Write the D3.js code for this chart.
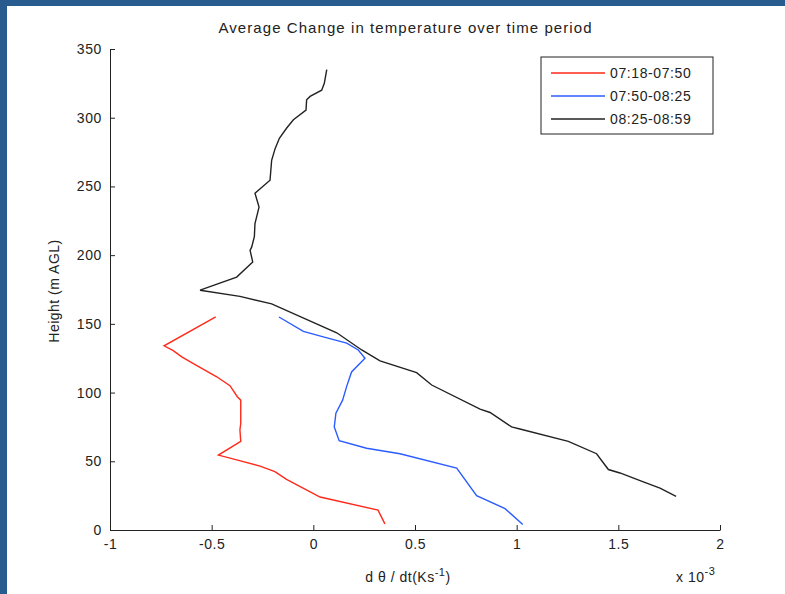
<!DOCTYPE html>
<html>
<head>
<meta charset="utf-8">
<script src="https://cdn.jsdelivr.net/npm/d3@7"></script>
<style>
  body { margin: 0; background: #fff; }
  svg { display: block; font-family: "Liberation Sans", Arial, sans-serif; }
</style>
</head>
<body>
<svg width="785" height="594"></svg>
<script>
// profiles of d(theta)/dt (x 10^-3 K/s) against height (m AGL)
const seriesNames = ["07:18-07:50", "07:50-08:25", "08:25-08:59"]
const seriesColors = ["#ff2a1a", "#2a5cff", "#222222"]

const redX = [-0.480, -0.734, -0.689, -0.647, -0.590, -0.475, -0.410, -0.374, -0.357, -0.357,
              -0.361, -0.357, -0.467, -0.377, -0.262, -0.189, -0.134, 0.033, 0.318, 0.352]
const redH = [155, 134, 130.5, 126, 121, 111.5, 105, 97, 94.5, 77.5,
              73, 64.5, 54.5, 51, 46.5, 42.5, 37, 24, 14.5, 4.5]

const blueX = [-0.169, -0.049, 0.049, 0.164, 0.221, 0.254, 0.188, 0.164, 0.144,
               0.111, 0.103, 0.127, 0.262, 0.426, 0.705, 0.803, 0.943, 1.030]
const blueH = [155, 144.5, 140.5, 136, 131, 125, 115, 104.5, 94.5,
               85, 75, 65, 59.5, 55.5, 45, 25, 15.5, 4]

const blackX = [0.066, 0.054, 0.041, -0.016, -0.033, -0.036, -0.098, -0.131, -0.167, -0.188,
                -0.205, -0.213, -0.287, -0.267, -0.287, -0.290, -0.303, -0.311, -0.298, -0.377,
                -0.557, -0.361, -0.205, 0.115, 0.238, 0.328, 0.508, 0.582, 0.820, 0.869,
                0.975, 1.016, 1.254, 1.393, 1.451, 1.508, 1.623, 1.705, 1.784]
const blackH = [335, 325, 320, 315.5, 313, 305.5, 298.5, 292.5, 285, 277.5,
                269, 254.5, 245, 235, 223, 213.5, 206, 203.5, 195, 184,
                174.5, 170, 164.5, 143.5, 131, 123, 114.5, 105.5, 88, 85.5,
                75, 73.5, 64.5, 55.5, 44, 41.5, 35, 30.5, 24.5]

const xTicks = [-1, -0.5, 0, 0.5, 1, 1.5, 2]
const yTicks = [0, 50, 100, 150, 200, 250, 300, 350]

const svg = d3.select("svg")
const ink = "#222"

// window frame: blue strip on left and top
svg.append("rect").attr("width", 785).attr("height", 594).attr("fill", "#285c8e")
svg.append("rect").attr("x", 7).attr("y", 6).attr("width", 778).attr("height", 588).attr("fill", "#fff")

const x = d3.scaleLinear().domain([-1, 2]).range([110, 720])
const y = d3.scaleLinear().domain([0, 350]).range([530, 49])

const series = [
  { name: seriesNames[0], color: seriesColors[0], pts: redX.map((v, i) => [v, redH[i]]) },
  { name: seriesNames[1], color: seriesColors[1], pts: blueX.map((v, i) => [v, blueH[i]]) },
  { name: seriesNames[2], color: seriesColors[2], pts: blackX.map((v, i) => [v, blackH[i]]) }
]

//axes, ticks pointing inward
svg.append("g")
  .attr("transform", `translate(0,${y(0)})`)
  .call(d3.axisBottom(x).tickValues(xTicks).tickFormat(d => String(d))
    .tickSizeInner(-5).tickSizeOuter(0).tickPadding(9))
svg.append("g")
  .attr("transform", `translate(${x(-1)},0)`)
  .call(d3.axisLeft(y).tickValues(yTicks).tickFormat(d => String(d))
    .tickSizeInner(-5).tickSizeOuter(0).tickPadding(8))

svg.selectAll(".domain, .tick line").attr("stroke", ink)
svg.selectAll(".tick text").attr("fill", ink).style("font-size", "14px").style("letter-spacing", "0.6px")

const line = d3.line().x(d => x(d[0])).y(d => y(d[1]))

svg.append("g").selectAll("path")
  .data(series)
  .join("path")
    .attr("d", d => line(d.pts))
    .attr("fill", "none")
    .attr("stroke", d => d.color)
    .attr("stroke-width", 1.4)

// title + labels
svg.append("text")
  .attr("x", 405).attr("y", 33)
  .attr("text-anchor", "middle").attr("fill", ink)
  .style("font-size", "15px")
  .attr("textLength", 373).attr("lengthAdjust", "spacing")
  .text("Average Change in temperature over time period")

svg.append("text")
  .attr("transform", "translate(59,291) rotate(-90)")
  .attr("text-anchor", "middle").attr("fill", ink)
  .style("font-size", "14px").style("letter-spacing", "0.5px")
  .text("Height (m AGL)")

const xl = svg.append("text")
  .attr("x", 408).attr("y", 582)
  .attr("text-anchor", "middle").attr("fill", ink)
  .style("font-size", "14px").style("letter-spacing", "0.5px")
xl.append("tspan").text("d \u03b8 / dt(Ks")
xl.append("tspan").attr("dy", -6).style("font-size", "11px").text("-1")
xl.append("tspan").attr("dy", 6).text(")")

const mult = svg.append("text")
  .attr("x", 676).attr("y", 582).attr("fill", ink)
  .style("font-size", "14px").style("letter-spacing", "0.5px")
mult.append("tspan").text("x 10")
mult.append("tspan").attr("dy", -7).style("font-size", "11px").text("-3")

// legend
const legend = svg.append("g").attr("transform", "translate(541,57)")
legend.append("rect")
  .attr("width", 172).attr("height", 77)
  .attr("fill", "#fff").attr("stroke", ink)
series.forEach((s, i) => {
  const row = legend.append("g").attr("transform", `translate(0,${16 + i * 23})`)
  row.append("line")
    .attr("x1", 10).attr("x2", 64)
    .attr("stroke", s.color).attr("stroke-width", 1.4)
  row.append("text")
    .attr("x", 69).attr("y", 5).attr("fill", ink)
    .style("font-size", "14px").style("letter-spacing", "0.6px")
    .text(s.name)
})
</script>
</body>
</html>
